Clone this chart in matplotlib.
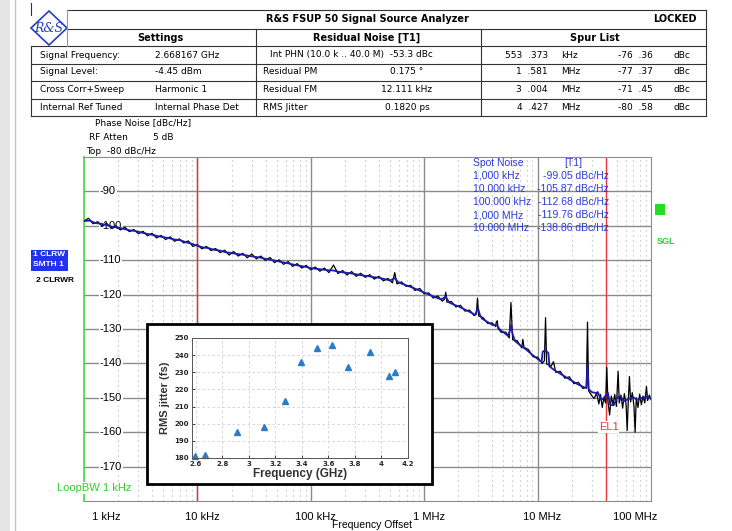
import numpy as np
import matplotlib.pyplot as plt
from matplotlib.patches import Rectangle, Polygon
from matplotlib.lines import Line2D
from matplotlib.transforms import ScaledTranslation

W, H = 732, 531

# phase noise traces: log10(offset / Hz), level in dBc/Hz
raw_logf = [3.00, 3.04, 3.08, 3.12, 3.16, 3.20, 3.24, 3.28, 3.32, 3.36, 3.40, 3.44, 3.48, 3.52,
            3.56, 3.60, 3.64, 3.68, 3.72, 3.76, 3.80, 3.84, 3.88, 3.92, 3.96, 4.00,
            4.04, 4.08, 4.12, 4.16, 4.20, 4.24, 4.28, 4.32, 4.36, 4.40, 4.44, 4.48, 4.52,
            4.56, 4.60, 4.64, 4.68, 4.72, 4.76, 4.80, 4.84, 4.88, 4.92, 4.96, 5.00,
            5.04, 5.08, 5.12, 5.16, 5.20, 5.24, 5.28, 5.32, 5.36, 5.40, 5.44, 5.48, 5.52,
            5.56, 5.60, 5.64, 5.68, 5.72, 5.74, 5.76, 5.80, 5.84, 5.88, 5.92, 5.96, 6.00,
            6.04, 6.08, 6.12, 6.16, 6.18, 6.19, 6.20, 6.24, 6.28, 6.32, 6.36, 6.40, 6.44,
            6.46, 6.47, 6.48, 6.52, 6.56, 6.60, 6.63, 6.635, 6.645, 6.65, 6.68, 6.72, 6.75,
            6.765, 6.78, 6.82, 6.86, 6.87, 6.88, 6.92, 6.96, 7.00, 7.04, 7.06, 7.07, 7.08,
            7.12, 7.14, 7.16, 7.20, 7.24, 7.28, 7.32, 7.36, 7.40, 7.43, 7.44, 7.45, 7.48,
            7.50, 7.52, 7.54, 7.555, 7.57, 7.585, 7.60, 7.61, 7.62, 7.635, 7.65, 7.665,
            7.68, 7.695, 7.71, 7.72, 7.735, 7.75, 7.765, 7.78, 7.79, 7.80, 7.81, 7.82,
            7.835, 7.85, 7.86, 7.87, 7.885, 7.90, 7.915, 7.93, 7.945, 7.96, 7.97, 7.985, 8.00]
raw_db = [-98.6, -97.8, -99.4, -98.8, -100.1, -99.3, -100.6, -100.0, -101.2, -100.4, -101.7, -101.1, -102.3, -101.6,
          -102.9, -102.2, -103.5, -102.8, -104.0, -103.2, -104.5, -103.8, -105.0, -104.4, -106.0, -105.5,
          -106.7, -106.0, -107.2, -106.6, -107.8, -107.1, -108.5, -107.5, -108.8, -108.0, -109.3, -108.2, -109.6,
          -108.8, -110.1, -109.2, -110.7, -109.9, -111.2, -110.4, -111.8, -111.0, -112.3, -111.5, -112.8,
          -112.0, -113.2, -112.3, -113.6, -111.4, -113.9, -113.0, -114.3, -113.3, -114.7, -113.8, -115.0, -114.2,
          -115.5, -114.7, -116.0, -115.3, -116.6, -113.6, -116.9, -116.3, -117.6, -117.3, -118.8, -118.2, -119.8,
          -119.5, -121.0, -120.4, -121.9, -121.3, -119.3, -122.2, -122.0, -123.6, -123.1, -124.8, -124.5, -126.1,
          -125.6, -121.0, -126.2, -126.7, -128.4, -128.2, -129.3, -128.0, -127.6, -129.8, -131.0, -130.9, -132.6,
          -122.3, -133.1, -133.4, -135.5, -133.0, -135.3, -136.0, -138.1, -138.2, -140.0, -139.2, -126.7, -140.2,
          -140.8, -139.5, -142.6, -142.3, -144.3, -143.9, -145.9, -145.5, -147.3, -146.9, -128.0, -148.0, -149.5,
          -150.2, -148.6, -151.8, -149.0, -152.8, -150.0, -151.5, -141.2, -151.0, -155.0, -149.5, -152.0,
          -149.0, -152.5, -142.3, -151.5, -149.2, -153.0, -148.8, -151.8, -159.5, -150.5, -143.8, -151.2,
          -148.5, -152.5, -160.0, -150.0, -152.8, -148.9, -152.0, -149.5, -151.5, -146.7, -150.8, -149.2, -150.5]

smooth_logf = [3.00, 3.05, 3.10, 3.15, 3.20, 3.25, 3.30, 3.35, 3.40, 3.45, 3.50, 3.55, 3.60, 3.65,
               3.70, 3.75, 3.80, 3.85, 3.90, 3.95, 4.00, 4.05, 4.10, 4.15, 4.20, 4.25, 4.30, 4.35,
               4.40, 4.45, 4.50, 4.55, 4.60, 4.65, 4.70, 4.75, 4.80, 4.85, 4.90, 4.95, 5.00, 5.05,
               5.10, 5.15, 5.20, 5.25, 5.30, 5.35, 5.40, 5.45, 5.50, 5.55, 5.60, 5.65, 5.70, 5.74,
               5.77, 5.80, 5.85, 5.90, 5.95, 6.00, 6.05, 6.10, 6.15, 6.19, 6.22, 6.26, 6.30, 6.35,
               6.40, 6.45, 6.465, 6.475, 6.49, 6.51, 6.55, 6.60, 6.64, 6.67, 6.70, 6.74, 6.755,
               6.765, 6.78, 6.80, 6.85, 6.90, 6.95, 7.00, 7.035, 7.045, 7.06, 7.08, 7.095, 7.105,
               7.15, 7.20, 7.25, 7.30, 7.35, 7.40, 7.43, 7.44, 7.45, 7.48, 7.52, 7.53, 7.56, 7.58,
               7.60, 7.62, 7.64, 7.67, 7.70, 7.73, 7.76, 7.80, 7.84, 7.88, 7.92, 7.96, 8.00]
smooth_db = [-98.6, -98.5, -99.2, -99.4, -99.8, -100.3, -100.5, -100.9, -101.3, -101.5, -101.9, -102.3, -102.6, -103.0,
             -103.3, -103.6, -104.0, -104.2, -104.8, -105.2, -105.8, -106.3, -106.5, -107.0, -107.2, -107.7, -107.9, -108.2,
             -108.4, -108.7, -109.0, -109.2, -109.6, -109.9, -110.2, -110.6, -110.9, -111.3, -111.6, -111.9, -112.3, -112.5,
             -112.7, -112.9, -113.0, -113.4, -113.6, -113.8, -114.1, -114.4, -114.6, -114.9, -115.1, -115.5, -115.9, -115.2,
             -116.4, -116.8, -117.4, -118.0, -118.7, -119.4, -120.1, -120.8, -121.4, -120.6, -122.3, -122.9, -123.4, -124.2,
             -125.0, -125.9, -124.5, -124.0, -125.8, -127.0, -127.8, -128.8, -128.9, -130.3, -131.0, -132.0, -130.5,
             -128.8, -131.5, -133.5, -134.8, -136.0, -137.4, -138.7, -139.5, -136.6, -136.3, -136.5, -137.0, -140.9,
             -142.0, -143.0, -144.0, -145.0, -146.0, -146.8, -147.2, -140.3, -147.5, -148.4, -148.6, -148.3, -150.6, -150.2,
             -149.3, -148.6, -152.0, -152.2, -150.0, -149.5, -151.0, -150.4, -149.8, -150.6, -150.0, -149.7, -150.2]

decades = [1e3, 1e4, 1e5, 1e6, 1e7, 1e8]
decade_labels = ['1 kHz', '10 kHz', '100 kHz', '1 MHz', '10 MHz', '100 MHz']
levels = [-90, -100, -110, -120, -130, -140, -150, -160, -170]
int_range = [1e4, 4e7]

spot_freq = ['1,000 kHz', '10.000 kHz', '100.000 kHz', '1,000 MHz', '10.000 MHz']
spot_val = ['-99.05 dBc/Hz', '-105.87 dBc/Hz', '-112.68 dBc/Hz', '-119.76 dBc/Hz', '-138.86 dBc/Hz']

settings_name = ['Signal Frequency:', 'Signal Level:', 'Cross Corr+Sweep', 'Internal Ref Tuned']
settings_val = ['2.668167 GHz', '-4.45 dBm', 'Harmonic 1', 'Internal Phase Det']
noise_name = ['Int PHN (10.0 k .. 40.0 M)  -53.3 dBc', 'Residual PM', 'Residual FM', 'RMS Jitter']
noise_val = ['', '0.175 °', '12.111 kHz', '0.1820 ps']
spur_freq = ['553  .373', '1  .581', '3  .004', '4  .427']
spur_unit = ['kHz', 'MHz', 'MHz', 'MHz']
spur_lvl = ['-76  .36', '-77  .37', '-71  .45', '-80  .58']

# inset: RMS jitter vs carrier frequency
jit_freq = [2.59, 2.67, 2.91, 3.11, 3.27, 3.39, 3.51, 3.63, 3.75, 3.91, 4.06, 4.10]
jit_fs = [181, 182, 195, 198, 213, 236, 244, 246, 233, 242, 228, 230]


def fx(x):
    return x / W


def fy(y):
    return 1 - y / H


fig = plt.figure(figsize=(W / 100, H / 100), dpi=100)
tf = fig.transFigure
ARIAL = 'Liberation Sans'
VERD = 'DejaVu Sans'


def hline(y, x0, x1, c='#333333', lw=0.8):
    fig.add_artist(Line2D([fx(x0), fx(x1)], [fy(y), fy(y)], transform=tf, color=c, lw=lw))


def vline(x, y0, y1, c='#333333', lw=0.8):
    fig.add_artist(Line2D([fx(x), fx(x)], [fy(y0), fy(y1)], transform=tf, color=c, lw=lw))


def txt(x, y, s, ha='left', **kw):
    kw.setdefault('fontsize', 6.5)
    kw.setdefault('family', VERD)
    return fig.text(fx(x), fy(y), s, ha=ha, va='center', **kw)


# page edge
fig.add_artist(Rectangle((0, 0), fx(10), 1, transform=tf, fc='#e4e4e4', ec='none'))
vline(15, 0, H, c='#c4c4c4', lw=1)

# ---- header table ----
hline(10, 67, 706)
hline(29, 67, 706)
for y in [46, 64, 81, 99, 116]:
    hline(y, 31, 706)
vline(706, 10, 116)
vline(31, 46, 116)
vline(31, 3, 15)
vline(67, 10, 46, c='#999999')
vline(256, 29, 116)
vline(481, 29, 116)

# R&S logo
fig.add_artist(Polygon([[fx(49), fy(11)], [fx(67), fy(28)], [fx(49), fy(45)], [fx(31), fy(28)]],
                       closed=True, transform=tf, fc='white', ec='#2340c0', lw=1.2))
txt(49, 29, 'R&S', ha='center', fontsize=9, family='DejaVu Serif', style='italic', color='#2340c0')

txt(367, 19, 'R&S FSUP 50 Signal Source Analyzer', ha='center', weight='bold', fontsize=7)
txt(697, 19, 'LOCKED', ha='right', weight='bold', fontsize=7)
txt(160, 38, 'Settings', ha='center', weight='bold', fontsize=7)
txt(367, 38, 'Residual Noise [T1]', ha='center', weight='bold', fontsize=7)
txt(595, 38, 'Spur List', ha='center', weight='bold', fontsize=7)

rows = [55, 72, 90, 107]
for i, y in enumerate(rows):
    txt(40, y, settings_name[i])
    txt(155, y, settings_val[i])
    txt(270 if i == 0 else 263, y, noise_name[i])
    txt(407, y, noise_val[i], ha='center')
    txt(548, y, spur_freq[i], ha='right')
    txt(561, y, spur_unit[i])
    txt(653, y, spur_lvl[i], ha='right')
    txt(674, y, 'dBc')

txt(95, 123, 'Phase Noise [dBc/Hz]')
txt(89, 138, 'RF Atten')
txt(153, 138, '5 dB')
txt(86, 152, 'Top  -80 dBc/Hz')

# ---- main phase noise plot ----
ax = fig.add_axes([fx(84), fy(501), 567 / W, 344 / H])
ax.set_xscale('log')
ax.set_xlim(1e3, 1e8)
ax.set_ylim(-180, -80)

for d in range(3, 8):
    for m in range(2, 10):
        ax.axvline(m * 10 ** d, color='#b4b4b4', lw=0.8, ls=(0, (1, 3.5)), zorder=1)
for d in decades[1:-1]:
    ax.axvline(d, color='#8c8c8c', lw=1, zorder=1)
for lv in levels:
    ax.axhline(lv, color='#8c8c8c', lw=1, zorder=1)
    ax.text(10 ** 3.14, lv, str(lv), ha='left', va='center', fontsize=8, family=ARIAL,
            bbox=dict(fc='white', ec='none', pad=0.6), zorder=2)

for x in int_range:
    ax.axvline(x, color='#e5383b', lw=1, zorder=2)

ax.plot(10 ** np.array(raw_logf), raw_db, color='black', lw=0.9, zorder=3)
ax.plot(10 ** np.array(smooth_logf), smooth_db, color='#1c1ca8', lw=1.3, zorder=4)

for s in ax.spines.values():
    s.set_color('#8c8c8c')
ax.spines['left'].set_color('#3bdc3b')
ax.spines['left'].set_linewidth(1.2)
ax.set_xticks([])
ax.set_yticks([])
ax.minorticks_off()

xt = ax.get_xaxis_transform()
for i, (d, lab) in enumerate(zip(decades, decade_labels)):
    if i == 0:
        ha, dx = 'left', 8
    elif i == len(decades) - 1:
        ha, dx = 'right', 6
    else:
        ha, dx = 'center', 5
    ax.text(d, -0.047, lab, ha=ha, va='center', fontsize=8, family=ARIAL,
            transform=xt + ScaledTranslation(dx / 100, 0, fig.dpi_scale_trans), clip_on=False)

ax.text(int_range[1], -158.5, 'EL1', ha='center', va='center', fontsize=8, family=ARIAL, color='#e5383b',
        transform=ax.transData + ScaledTranslation(3 / 100, 0, fig.dpi_scale_trans),
        bbox=dict(fc='white', ec='none', pad=0.5), zorder=5)

# spot noise table
blue = '#2a3bd6'
txt(473, 163, 'Spot Noise', fontsize=7.5, family=ARIAL, color=blue)
txt(573, 163, '[T1]', ha='center', fontsize=7.5, family=ARIAL, color=blue)
for i in range(len(spot_freq)):
    txt(473, 176 + 13 * i, spot_freq[i], fontsize=7.5, family=ARIAL, color=blue)
    txt(609, 176 + 13 * i, spot_val[i], ha='right', fontsize=7.5, family=ARIAL, color=blue)

# side annotations
txt(94, 488, 'LoopBW 1 kHz', ha='center', fontsize=8, family=ARIAL, color='#33cc33',
    bbox=dict(fc='white', ec='none', pad=0.5))
fig.add_artist(Rectangle((fx(655), fy(215)), fx(10), 11 / H, transform=tf, fc='#22dd22', ec='none'))
txt(657, 241, 'SGL', fontsize=6.5, family=ARIAL, weight='bold', color='#33cc33')
fig.add_artist(Rectangle((fx(31), fy(271)), fx(37), 21 / H, transform=tf, fc='#2233ee', ec='none'))
txt(33, 255, '1 CLRW', fontsize=6, family=ARIAL, weight='bold', color='white')
txt(33, 265, 'SMTH 1', fontsize=6, family=ARIAL, weight='bold', color='white')
txt(36, 280, '2 CLRWR', fontsize=6, family=ARIAL, weight='bold', color='black')
fig.text(fx(372), 0.002, 'Frequency Offset', ha='center', va='bottom', fontsize=7.5, family=ARIAL)

# ---- inset ----
fig.add_artist(Rectangle((fx(147), fy(484)), fx(432 - 147), (484 - 324) / H, transform=tf,
                         fc='white', ec='black', lw=2, zorder=4))
iax = fig.add_axes([fx(192), fy(458), 216 / W, 120 / H], zorder=5)
iax.plot(jit_freq, jit_fs, ls='none', marker='^', ms=5, color='#2a7dc4', clip_on=False)
iax.set_xlim(2.57, 4.2)
iax.set_ylim(180, 250)
iax.set_xticks([2.6, 2.8, 3.0, 3.2, 3.4, 3.6, 3.8, 4.0, 4.2])
iax.set_xticklabels(['2.6', '2.8', '3', '3.2', '3.4', '3.6', '3.8', '4', '4.2'])
iax.set_yticks(range(180, 251, 10))
iax.tick_params(direction='in', length=2, width=0.6, labelsize=5, pad=2, colors='#262626')
for lab in iax.get_xticklabels() + iax.get_yticklabels():
    lab.set_fontweight('bold')
iax.grid(True, ls=(0, (3, 3)), color='#d0d0d0', lw=0.6)
for s in iax.spines.values():
    s.set_color('#555555')
    s.set_linewidth(0.7)
iax.set_xlabel('Frequency (GHz)', fontsize=8.5, weight='bold', family=ARIAL, labelpad=1, color='#333333')
iax.set_ylabel('RMS jitter (fs)', fontsize=8, weight='bold', family=ARIAL, labelpad=3, color='#333333')

fig.savefig('out.png', dpi=100)
